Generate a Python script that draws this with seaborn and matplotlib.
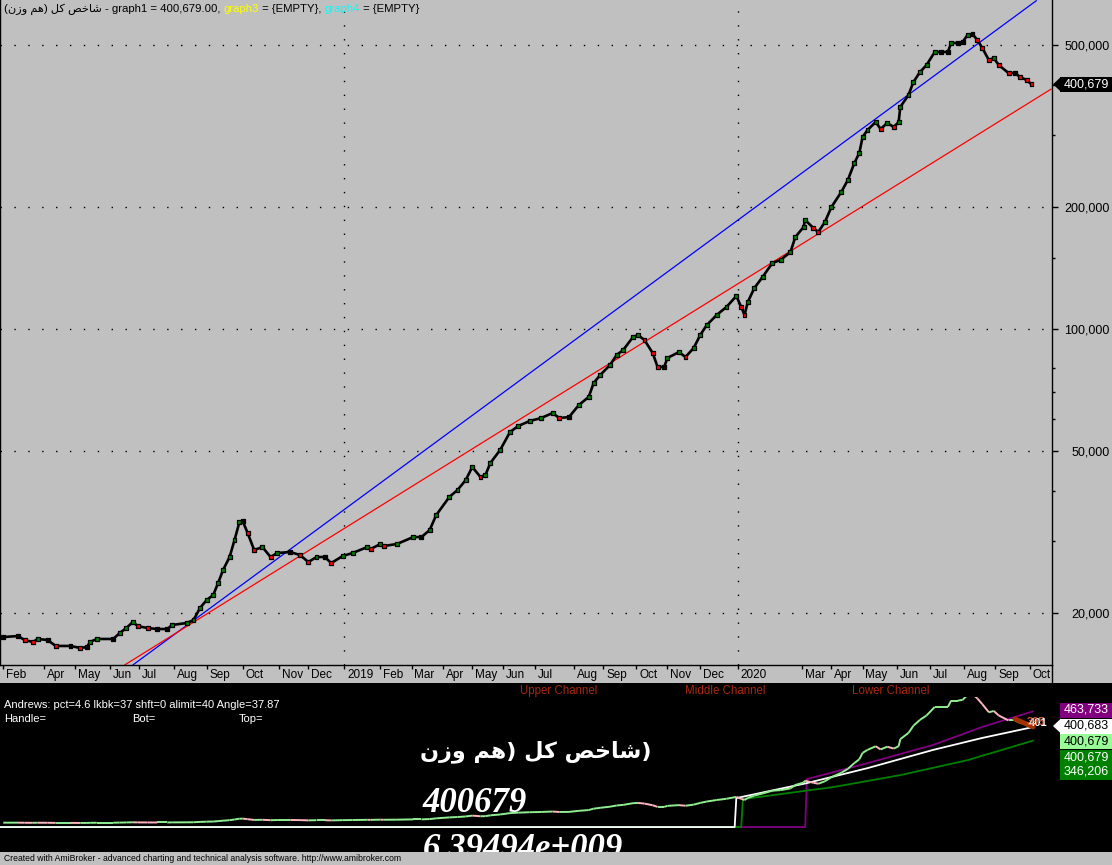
"""
AmiBroker style chart of the equal-weight index with Andrews channels.
"""

import numpy as np
import pandas as pd
import seaborn as sns
import matplotlib
matplotlib.use("Agg")
import matplotlib.pyplot as plt
from matplotlib.collections import LineCollection
from matplotlib.patches import Rectangle, Polygon
from matplotlib.lines import Line2D
from matplotlib.ticker import FixedLocator, NullFormatter
from matplotlib.transforms import ScaledTranslation

W, H = 1112, 865
GRAY = "#C0C0C0"

# price path: trading-day index and index value
bars = [2, 11, 15, 20, 23, 29, 34, 43, 49, 53,
        55, 59, 69, 73, 77, 81, 84, 90, 96, 102,
        105, 114, 118, 122, 126, 130, 133, 136, 140, 143,
        146, 148, 151, 155, 160, 165, 169, 177, 183, 188,
        193, 198, 202, 209, 215, 224, 226, 232, 234, 242,
        252, 257, 262, 266, 274, 279, 284, 288, 293, 296,
        299, 305, 311, 316, 323, 330, 337, 341, 347, 353,
        359, 362, 366, 372, 376, 380, 386, 389, 393, 398,
        401, 405, 407, 414, 418, 423, 427, 431, 437, 443,
        449, 452, 454, 456, 460, 465, 471, 476, 482, 485,
        490, 491, 496, 499, 503, 507, 513, 517, 521, 524,
        526, 529, 534, 537, 541, 545, 548, 549, 554, 557,
        561, 565, 570, 574, 578, 580, 584, 587, 590, 593,
        596, 599, 603, 606, 609, 615, 619, 622, 626, 629]
close = [17430, 17530, 17140, 16950, 17240, 17140, 16570, 16570, 16380, 16470,
         16950, 17240, 17240, 17830, 18340, 18980, 18550, 18340, 18240, 18240,
         18660, 18880, 19200, 20560, 21500, 22120, 23670, 25490, 27440, 30210,
         33460, 33650, 31440, 28550, 29040, 27440, 28070, 28230, 27750, 26670,
         27440, 27440, 26520, 27600, 28070, 29040, 28710, 29540, 29210, 29540,
         30730, 30730, 31970, 34810, 38570, 40130, 42470, 45720, 43190, 43680,
         46770, 50360, 55750, 57690, 59350, 60360, 62110, 60360, 60700, 65000,
         68020, 73620, 77030, 81540, 86300, 88760, 95560, 96650, 93950, 87270,
         80630, 80630, 84850, 87750, 85310, 89790, 96650, 102300, 108260, 113300,
         120590, 113300, 108260, 116550, 126180, 134310, 145410, 147910, 154770, 168490,
         178310, 185530, 177340, 173380, 183410, 199750, 217500, 232810, 256450, 271370,
         297170, 309140, 323550, 310940, 321700, 314460, 323550, 352370, 377120, 405860,
         429540, 446940, 481280, 481280, 481280, 506400, 506400, 509330, 529940, 533010,
         515140, 492250, 459800, 465020, 446940, 427080, 427080, 417530, 410480, 400679]

# date axis
month_bars = [2, 27, 46, 67, 85, 106, 126, 148, 170, 188, 210, 232, 251, 270, 288,
              307, 326, 350, 368, 388, 407, 427, 450, 489, 507, 526, 547, 567, 588, 607, 628]
month_labels = ["Feb", "Apr", "May", "Jun", "Jul", "Aug", "Sep", "Oct", "Nov", "Dec",
                "2019", "Feb", "Mar", "Apr", "May", "Jun", "Jul", "Aug", "Sep", "Oct",
                "Nov", "Dec", "2020", "Mar", "Apr", "May", "Jun", "Jul", "Aug", "Sep", "Oct"]

price_ticks = [20000, 50000, 100000, 200000, 500000]
price_minor = [30000, 40000, 60000, 70000, 80000, 150000, 300000, 400000]

# trend lines on the price pane
blue_bars, blue_vals = [81, 632], [14874, 644000]
red_bars, red_vals = [76, 641], [14874, 390000]

# Andrews channels in the lower pane
mid_bars = [0, 448, 449, 492, 529, 569, 599, 630]
mid_vals = [0, 0, 116000, 176000, 236000, 309000, 357000, 400683]
low_bars = [0, 452, 453, 508, 549, 590, 630]
low_vals = [0, 0, 112000, 160000, 208000, 268000, 346206]
up_bars = [0, 491, 492, 529, 569, 599, 630]
up_vals = [0, 0, 192000, 256000, 329000, 401000, 463733]
tail_bars, tail_vals = [619, 630], [433000, 401000]

sns.set_style("white")
plt.rcParams["font.family"] = ["Liberation Sans", "DejaVu Sans"]

fig = plt.figure(figsize=(W / 100, H / 100), dpi=100)
fig.patch.set_facecolor(GRAY)


def fx(x):
    return x / W


def fy(y):
    return 1 - y / H


# ---------------- upper price pane
ax1 = fig.add_axes([0, fy(665), fx(1052), 665 / H])
ax1.set_facecolor(GRAY)
ax1.set_yscale("log")
ax1.set_xlim(0, 641.5)
ax1.set_ylim(14874, 646300)

for v in price_ticks:
    ax1.axhline(v, color="black", lw=1, dashes=(1, 9), zorder=1)
for b, lab in zip(month_bars, month_labels):
    if lab.isdigit():
        ax1.axvline(b, color="black", lw=1, dashes=(1, 9), zorder=1)

sns.lineplot(x=blue_bars, y=blue_vals, ax=ax1, color="#0000FF", lw=0.9, zorder=2)
sns.lineplot(x=red_bars, y=red_vals, ax=ax1, color="#FF0000", lw=0.9, zorder=2)

df = pd.DataFrame({"bar": bars, "close": close})
chg = df["close"].pct_change().fillna(0)
df["dir"] = np.where(chg > 0.01, "up", np.where(chg < -0.01, "down", "flat"))
sns.lineplot(data=df, x="bar", y="close", ax=ax1, color="black", lw=1.9,
             estimator=None, sort=False, zorder=3)
sns.scatterplot(data=df, x="bar", y="close", hue="dir", ax=ax1, marker="s", s=8,
                palette={"up": "#008000", "down": "#FF0000", "flat": "black"},
                edgecolor="black", linewidth=0.9, legend=False, zorder=4)

ax1.set_xlabel("")
ax1.set_ylabel("")
ax1.set_xticks(month_bars)
ax1.set_xticklabels(month_labels)
ax1.tick_params(axis="x", direction="out", length=3, width=1, pad=0,
                labelsize=8.5, colors="black", bottom=True)
off = ScaledTranslation(2 / 72, 0, fig.dpi_scale_trans)
for lbl in ax1.get_xticklabels():
    lbl.set_horizontalalignment("left")
    lbl.set_transform(lbl.get_transform() + off)

ax1.yaxis.tick_right()
ax1.set_yticks(price_ticks)
ax1.set_yticklabels([f"{v:,}" for v in price_ticks])
ax1.yaxis.set_minor_locator(FixedLocator(price_minor))
ax1.yaxis.set_minor_formatter(NullFormatter())
ax1.tick_params(axis="y", which="major", right=True, left=False, direction="out",
                length=4, width=1, pad=37.5, labelsize=9, colors="black")
ax1.tick_params(axis="y", which="minor", right=True, left=False, direction="out",
                length=2, width=1, colors="black")
for lbl in ax1.get_yticklabels():
    lbl.set_horizontalalignment("right")
ax1.spines["top"].set_visible(False)
for side in ["right", "bottom", "left"]:
    ax1.spines[side].set_color("black")
    ax1.spines[side].set_linewidth(1)
fig.add_artist(Line2D([fx(1052), fx(1052)], [fy(665), fy(683)], color="black", lw=1))

# ---------------- lower indicator pane
fig.add_artist(Rectangle((0, fy(851.5)), 1, (851.5 - 682.5) / H, transform=fig.transFigure,
                         facecolor="black", edgecolor="none", zorder=-1))
ax2 = fig.add_axes([0, fy(851.5), fx(1052), (851.5 - 697) / H])
ax2.set_facecolor("black")
ax2.set_xlim(0, 641.5)
ax2.set_ylim(-98000, 521000)

sns.lineplot(x=up_bars, y=up_vals, ax=ax2, color="#800080", lw=1.3, estimator=None, sort=False)
sns.lineplot(x=low_bars, y=low_vals, ax=ax2, color="#008000", lw=1.3, estimator=None, sort=False)
sns.lineplot(x=mid_bars, y=mid_vals, ax=ax2, color="white", lw=1.3, estimator=None, sort=False)

pts = np.column_stack([bars, close])
segs = np.stack([pts[:-1], pts[1:]], axis=1)
seg_cols = ["#90EE90" if close[i + 1] >= close[i] else "#FFB6C1" for i in range(len(close) - 1)]
ax2.add_collection(LineCollection(segs, colors=seg_cols, linewidths=1.4, zorder=3))
sns.lineplot(x=tail_bars, y=tail_vals, ax=ax2, color="#A33000", lw=3.5, zorder=4)
ax2.axis("off")

# ---------------- texts
title_ar = "(" + "\uFEE5\uFEAF\uFEED" + " " + "\uFEE2\uFEEB" + ")" + " " + "\uFEDE\uFEDB" + " " + "\uFEBA\uFEA7\uFE8E\uFEB7"
big_ar = "\uFEE5\uFEAF\uFEED" + " " + "\uFEE2\uFEEB" + ")" + " " + "\uFEDE\uFEDB" + " " + "\uFEBA\uFEA7\uFE8E\uFEB7" + ")"

renderer = fig.canvas.get_renderer()
x = 4
for s, c in [(title_ar + " - graph1 = 400,679.00, ", "black"), ("graph3", "#FFFF00"),
             (" = {EMPTY}, ", "black"), ("graph4", "#00FFFF"), (" = {EMPTY}", "black")]:
    t = fig.text(fx(x), fy(12), s, color=c, fontsize=8.2, ha="left", va="baseline")
    x += t.get_window_extent(renderer).width

for xx, s in [(520, "Upper Channel"), (685, "Middle Channel"), (852, "Lower Channel")]:
    fig.text(fx(xx), fy(691), s, color="#A82810", fontsize=8.3, ha="left", va="center")
fig.text(fx(4), fy(705), "Andrews: pct=4.6 lkbk=37 shft=0 alimit=40 Angle=37.87",
         color="white", fontsize=8, ha="left", va="center")
for xx, s in [(4, "Handle="), (132, "Bot="), (239, "Top=")]:
    fig.text(fx(xx), fy(719), s, color="white", fontsize=8, ha="left", va="center")

fig.text(fx(420), fy(752), big_ar, color="white", fontsize=16, fontweight="bold",
         family=["DejaVu Sans"], ha="left", va="center")
fig.text(fx(423), fy(812), "400679", color="white", fontsize=25, fontweight="bold",
         fontstyle="italic", family=["Liberation Serif"], ha="left", va="baseline")
fig.text(fx(423), fy(858), "6.39494e+009", color="white", fontsize=25, fontweight="bold",
         fontstyle="italic", family=["Liberation Serif"], ha="left", va="baseline")
fig.text(fx(1029), fy(723), "401", color="white", fontsize=8, fontweight="bold",
         ha="left", va="center", zorder=6)
fig.text(fx(1027), fy(722), "395", color="#FF7040", fontsize=8, fontweight="bold",
         ha="left", va="center", alpha=0.8, zorder=6)


def side_label(yc, text, bg, fg, arrow=False):
    fig.add_artist(Rectangle((fx(1060), fy(yc + 7.5)), fx(52), 15 / H, transform=fig.transFigure,
                             facecolor=bg, edgecolor="none", zorder=4))
    if arrow:
        fig.add_artist(Polygon([(fx(1053), fy(yc)), (fx(1061), fy(yc - 7.5)), (fx(1061), fy(yc + 7.5))],
                               closed=True, transform=fig.transFigure, facecolor=bg,
                               edgecolor="none", zorder=4))
    fig.text(fx(1109), fy(yc), text, color=fg, fontsize=9, ha="right", va="center", zorder=5)


# last price marker on the price pane, placed from the data
last_y = H - ax1.transData.transform((0, close[-1]))[1]
side_label(last_y, f"{close[-1]:,}", "black", "white", arrow=True)

side_label(710, "463,733", "#800080", "white")
side_label(726, "400,683", "white", "black", arrow=True)
side_label(741.5, "400,679", "#98FB98", "black")
side_label(757, "400,679", "#008000", "white")
side_label(772, "346,206", "#008000", "white")

# footer strip
fig.add_artist(Rectangle((0, 0), 1, (865 - 851.5) / H, transform=fig.transFigure,
                         facecolor=GRAY, edgecolor="none", zorder=8))
fig.text(fx(4), fy(858.5), "Created with AmiBroker - advanced charting and technical analysis software. http://www.amibroker.com",
         color="black", fontsize=6.2, ha="left", va="center", zorder=9)

fig.savefig("out.png", dpi=100, facecolor=fig.get_facecolor())
